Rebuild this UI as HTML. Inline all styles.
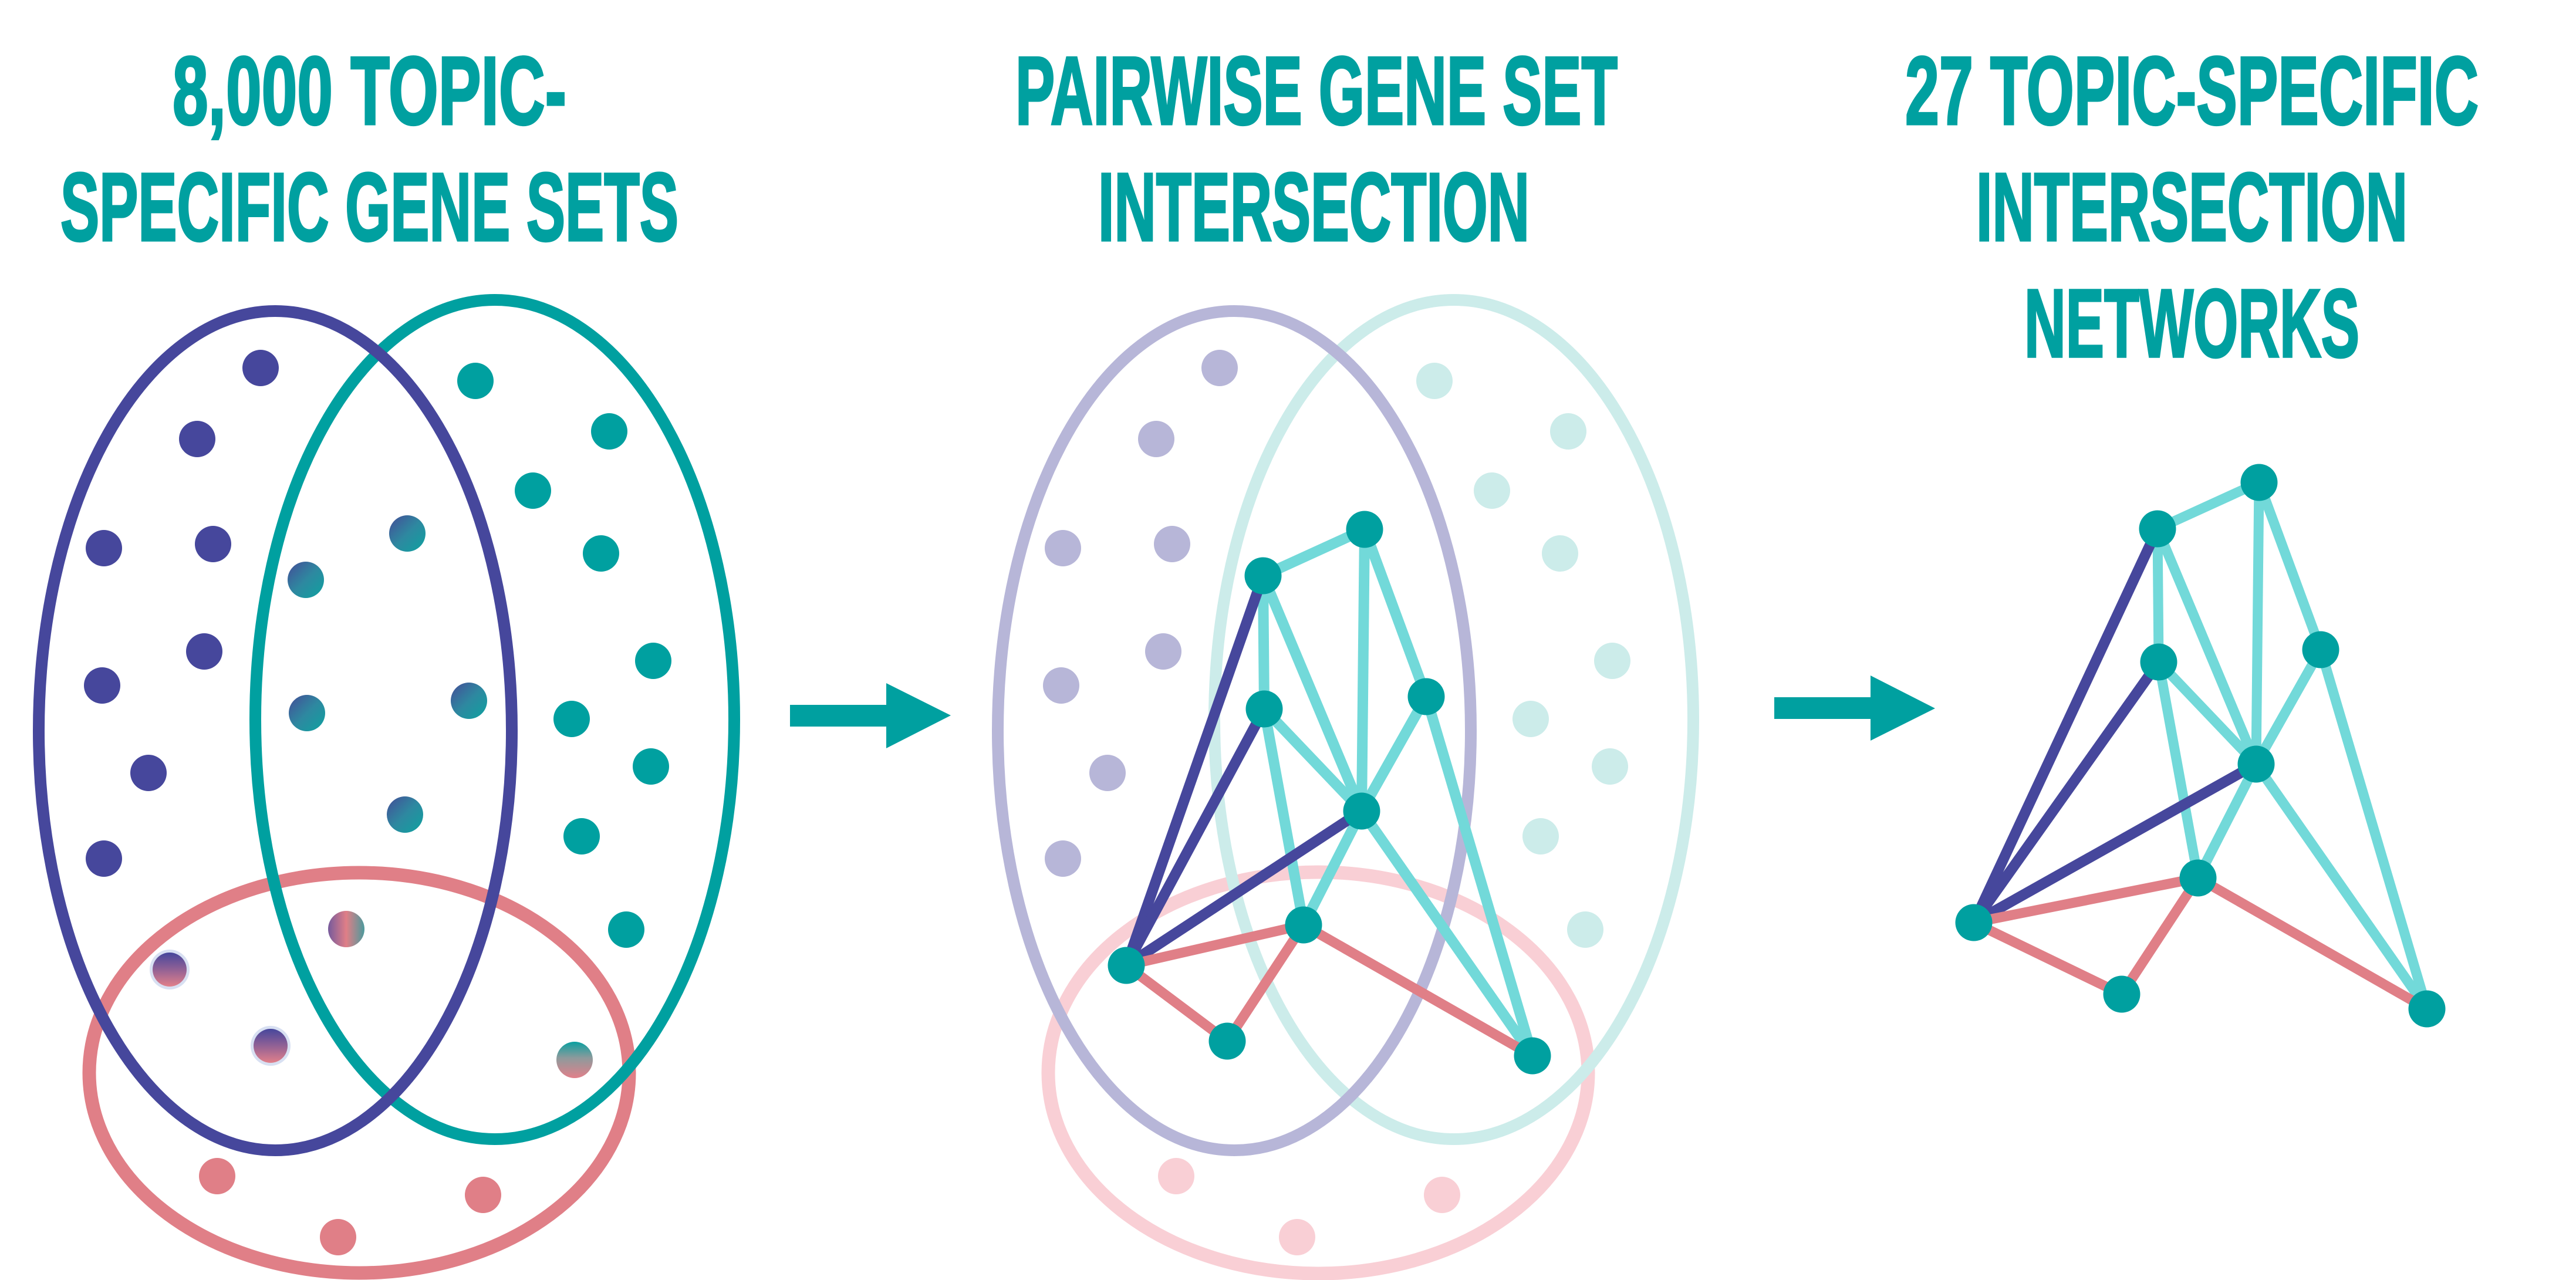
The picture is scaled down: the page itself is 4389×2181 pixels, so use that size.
<!DOCTYPE html>
<html>
<head>
<meta charset="utf-8">
<style>
  html, body { margin: 0; padding: 0; background: #ffffff; }
  svg { display: block; }
  .t { font-family: "Liberation Sans", "DejaVu Sans", sans-serif; font-weight: bold; font-size: 165px; fill: #00A0A0; stroke: #00A0A0; stroke-width: 4; }
</style>
</head>
<body>
<svg width="4389" height="2181" viewBox="0 0 4389 2181" xmlns="http://www.w3.org/2000/svg">
  <defs>
    <linearGradient id="gPT" x1="0" y1="0" x2="1" y2="1">
      <stop offset="0" stop-color="#444C97"/>
      <stop offset="0.5" stop-color="#2E88A0"/>
      <stop offset="1" stop-color="#0EA2A0"/>
    </linearGradient>
    <linearGradient id="gPP" x1="0" y1="0" x2="0" y2="1">
      <stop offset="0" stop-color="#46479C"/>
      <stop offset="0.45" stop-color="#8A5E96"/>
      <stop offset="1" stop-color="#E2808A"/>
    </linearGradient>
    <linearGradient id="gTP" x1="0" y1="0" x2="0" y2="1">
      <stop offset="0" stop-color="#0AA0A0"/>
      <stop offset="0.45" stop-color="#8E9A9C"/>
      <stop offset="1" stop-color="#E2808A"/>
    </linearGradient>
    <linearGradient id="gTri" x1="0" y1="0" x2="1" y2="0">
      <stop offset="0" stop-color="#765A9C"/>
      <stop offset="0.5" stop-color="#E07F87"/>
      <stop offset="1" stop-color="#4C9A9C"/>
    </linearGradient>
  </defs>

  <rect x="0" y="0" width="4389" height="2181" fill="#ffffff"/>

  <!-- Titles -->
  <text class="t" x="294" y="211.5" textLength="671" lengthAdjust="spacingAndGlyphs">8,000 TOPIC-</text>
  <text class="t" x="103" y="409.6" textLength="1053" lengthAdjust="spacingAndGlyphs">SPECIFIC GENE SETS</text>

  <text class="t" x="1730" y="211.5" textLength="1026" lengthAdjust="spacingAndGlyphs">PAIRWISE GENE SET</text>
  <text class="t" x="1871" y="409.6" textLength="735" lengthAdjust="spacingAndGlyphs">INTERSECTION</text>

  <text class="t" x="3246" y="211.5" textLength="977" lengthAdjust="spacingAndGlyphs">27 TOPIC-SPECIFIC</text>
  <text class="t" x="3367" y="409.6" textLength="735" lengthAdjust="spacingAndGlyphs">INTERSECTION</text>
  <text class="t" x="3449" y="607.8" textLength="571" lengthAdjust="spacingAndGlyphs">NETWORKS</text>

  <!-- ============ LEFT: Venn diagram ============ -->
  <g fill="none">
    <ellipse cx="612" cy="1828" rx="460" ry="341" stroke="#E07F87" stroke-width="23"/>
    <ellipse cx="843" cy="1226" rx="408" ry="715" stroke="#00A0A0" stroke-width="20"/>
    <ellipse cx="469" cy="1245" rx="403" ry="715" stroke="#46479C" stroke-width="20"/>
  </g>

  <!-- purple dots -->
  <g fill="#46479C">
    <circle cx="444" cy="627" r="31"/>
    <circle cx="336" cy="748" r="31"/>
    <circle cx="177" cy="934" r="31"/>
    <circle cx="363" cy="927" r="31"/>
    <circle cx="348" cy="1110" r="31"/>
    <circle cx="174" cy="1168" r="31"/>
    <circle cx="253" cy="1317" r="31"/>
    <circle cx="177" cy="1463" r="31"/>
  </g>
  <!-- teal dots -->
  <g fill="#00A0A0">
    <circle cx="810" cy="649" r="31"/>
    <circle cx="1038" cy="735" r="31"/>
    <circle cx="908" cy="836" r="31"/>
    <circle cx="1024" cy="943" r="31"/>
    <circle cx="1113" cy="1126" r="31"/>
    <circle cx="974" cy="1225" r="31"/>
    <circle cx="1109" cy="1306" r="31"/>
    <circle cx="991" cy="1425" r="31"/>
    <circle cx="1067" cy="1584" r="31"/>
  </g>
  <!-- purple-teal gradient dots -->
  <g fill="url(#gPT)">
    <circle cx="694" cy="909" r="31"/>
    <circle cx="521" cy="988" r="31"/>
    <circle cx="523" cy="1215" r="31"/>
    <circle cx="799" cy="1194" r="31"/>
    <circle cx="690" cy="1388" r="31"/>
  </g>
  <!-- triple -->
  <circle cx="590" cy="1583" r="31" fill="url(#gTri)"/>
  <!-- purple-pink with halo -->
  <circle cx="289" cy="1652" r="34" fill="#D8E0F2"/>
  <circle cx="289" cy="1652" r="29" fill="url(#gPP)"/>
  <circle cx="461" cy="1782" r="34" fill="#D8E0F2"/>
  <circle cx="461" cy="1782" r="29" fill="url(#gPP)"/>
  <!-- teal-pink -->
  <circle cx="979" cy="1806" r="31" fill="url(#gTP)"/>
  <!-- pink dots -->
  <g fill="#E07F87">
    <circle cx="370" cy="2004" r="31"/>
    <circle cx="823" cy="2036" r="31"/>
    <circle cx="576" cy="2108" r="31"/>
  </g>

  <!-- Arrow 1 -->
  <polygon points="1346,1201 1510,1201 1510,1164 1620,1219 1510,1275 1510,1238 1346,1238" fill="#00A0A0"/>

  <!-- ============ MIDDLE: faded Venn + network ============ -->
  <g fill="none">
    <ellipse cx="2246" cy="1828" rx="460" ry="342" stroke="#F9CFD5" stroke-width="23"/>
    <ellipse cx="2477" cy="1226" rx="408" ry="715" stroke="#CCECEA" stroke-width="20"/>
    <ellipse cx="2103" cy="1245" rx="403" ry="715" stroke="#B7B6D8" stroke-width="20"/>
  </g>
  <g fill="#B7B6D8">
    <circle cx="2078" cy="627" r="31"/>
    <circle cx="1970" cy="748" r="31"/>
    <circle cx="1811" cy="934" r="31"/>
    <circle cx="1997" cy="927" r="31"/>
    <circle cx="1982" cy="1110" r="31"/>
    <circle cx="1808" cy="1168" r="31"/>
    <circle cx="1887" cy="1317" r="31"/>
    <circle cx="1811" cy="1463" r="31"/>
  </g>
  <g fill="#CCECEA">
    <circle cx="2444" cy="649" r="31"/>
    <circle cx="2672" cy="735" r="31"/>
    <circle cx="2542" cy="836" r="31"/>
    <circle cx="2658" cy="943" r="31"/>
    <circle cx="2747" cy="1126" r="31"/>
    <circle cx="2608" cy="1225" r="31"/>
    <circle cx="2743" cy="1306" r="31"/>
    <circle cx="2625" cy="1425" r="31"/>
    <circle cx="2701" cy="1584" r="31"/>
  </g>
  <g fill="#F9CFD5">
    <circle cx="2004" cy="2004" r="31"/>
    <circle cx="2457" cy="2036" r="31"/>
    <circle cx="2210" cy="2108" r="31"/>
  </g>

  <!-- middle network edges -->
  <g stroke="#72D9D9" stroke-width="18" stroke-linecap="round">
    <line x1="2152" y1="981" x2="2325" y2="902"/>
    <line x1="2152" y1="981" x2="2154" y2="1208"/>
    <line x1="2152" y1="981" x2="2320" y2="1382"/>
    <line x1="2325" y1="902" x2="2320" y2="1382"/>
    <line x1="2325" y1="902" x2="2430" y2="1187"/>
    <line x1="2154" y1="1208" x2="2320" y2="1382"/>
    <line x1="2154" y1="1208" x2="2221" y2="1576"/>
    <line x1="2430" y1="1187" x2="2320" y2="1382"/>
    <line x1="2430" y1="1187" x2="2611" y2="1799"/>
    <line x1="2320" y1="1382" x2="2221" y2="1576"/>
    <line x1="2320" y1="1382" x2="2611" y2="1799"/>
  </g>
  <g stroke="#46479C" stroke-width="18" stroke-linecap="round">
    <line x1="2152" y1="981" x2="1919" y2="1645"/>
    <line x1="2154" y1="1208" x2="1919" y2="1645"/>
    <line x1="2320" y1="1382" x2="1919" y2="1645"/>
  </g>
  <g stroke="#E07F87" stroke-width="17" stroke-linecap="round">
    <line x1="1919" y1="1645" x2="2221" y2="1576"/>
    <line x1="2221" y1="1576" x2="2091" y2="1774"/>
    <line x1="2221" y1="1576" x2="2611" y2="1799"/>
    <line x1="1919" y1="1645" x2="2091" y2="1774"/>
  </g>
  <g fill="#00A0A0">
    <circle cx="2152" cy="981" r="31.5"/>
    <circle cx="2325" cy="902" r="31.5"/>
    <circle cx="2154" cy="1208" r="31.5"/>
    <circle cx="2430" cy="1187" r="31.5"/>
    <circle cx="2320" cy="1382" r="31.5"/>
    <circle cx="2221" cy="1576" r="31.5"/>
    <circle cx="1919" cy="1645" r="31.5"/>
    <circle cx="2091" cy="1774" r="31.5"/>
    <circle cx="2611" cy="1799" r="31.5"/>
  </g>

  <!-- Arrow 2 -->
  <polygon points="3023,1188 3187,1188 3187,1151 3297,1207 3187,1262 3187,1225 3023,1225" fill="#00A0A0"/>

  <!-- ============ RIGHT: network ============ -->
  <g stroke="#72D9D9" stroke-width="17" stroke-linecap="round">
    <line x1="3676" y1="901" x2="3849" y2="822"/>
    <line x1="3676" y1="901" x2="3678" y2="1128"/>
    <line x1="3676" y1="901" x2="3844" y2="1302"/>
    <line x1="3849" y1="822" x2="3844" y2="1302"/>
    <line x1="3849" y1="822" x2="3954" y2="1107"/>
    <line x1="3678" y1="1128" x2="3844" y2="1302"/>
    <line x1="3678" y1="1128" x2="3745" y2="1496"/>
    <line x1="3954" y1="1107" x2="3844" y2="1302"/>
    <line x1="3954" y1="1107" x2="4135" y2="1719"/>
    <line x1="3844" y1="1302" x2="3745" y2="1496"/>
    <line x1="3844" y1="1302" x2="4135" y2="1719"/>
  </g>
  <g stroke="#46479C" stroke-width="18" stroke-linecap="round">
    <line x1="3676" y1="901" x2="3363" y2="1572"/>
    <line x1="3678" y1="1128" x2="3363" y2="1572"/>
    <line x1="3844" y1="1302" x2="3363" y2="1572"/>
  </g>
  <g stroke="#E07F87" stroke-width="17" stroke-linecap="round">
    <line x1="3363" y1="1572" x2="3745" y2="1496"/>
    <line x1="3745" y1="1496" x2="3615" y2="1694"/>
    <line x1="3745" y1="1496" x2="4135" y2="1719"/>
    <line x1="3363" y1="1572" x2="3615" y2="1694"/>
  </g>
  <g fill="#00A0A0">
    <circle cx="3676" cy="901" r="31.5"/>
    <circle cx="3849" cy="822" r="31.5"/>
    <circle cx="3678" cy="1128" r="31.5"/>
    <circle cx="3954" cy="1107" r="31.5"/>
    <circle cx="3844" cy="1302" r="31.5"/>
    <circle cx="3745" cy="1496" r="31.5"/>
    <circle cx="3363" cy="1572" r="31.5"/>
    <circle cx="3615" cy="1694" r="31.5"/>
    <circle cx="4135" cy="1719" r="31.5"/>
  </g>
</svg>
</body>
</html>
